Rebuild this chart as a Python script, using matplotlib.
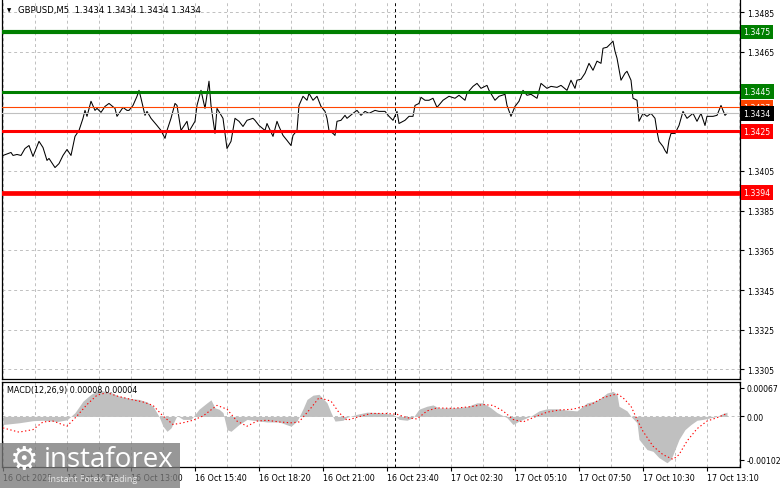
import matplotlib
matplotlib.use("Agg")
import matplotlib.pyplot as plt
from matplotlib.patches import Rectangle

# ---------------- data ----------------
price_bars = [0, 4, 5, 7, 9, 11, 13, 15, 16, 18, 20, 22, 23, 26, 28, 30, 32, 34, 36, 38, 40, 41, 42, 44, 46, 47, 49,
              51, 53, 56, 57, 60, 62, 63, 65, 67, 68, 69, 71, 72, 74, 77, 79, 81, 82, 84, 86, 87, 89, 92, 93, 96, 97,
              99, 101, 103, 104, 106, 107, 110, 112, 114, 116, 118, 120, 122, 125, 126, 128, 131, 132, 135, 137, 138,
              140, 142, 144, 145, 147, 148, 150, 152, 153, 155, 157, 159, 161, 162, 163, 165, 166, 167, 169, 171, 172,
              175, 177, 179, 181, 183, 186, 188, 191, 193, 195, 197, 198, 201, 203, 205, 206, 208, 209, 211, 213, 215,
              217, 220, 223, 226, 228, 231, 232, 235, 237, 239, 242, 243, 246, 248, 251, 252, 254, 256, 258, 260, 262,
              264, 267, 269, 272, 274, 277, 279, 282, 284, 286, 287, 289, 291, 293, 295, 297, 299, 300, 302, 304, 305,
              306, 307, 309, 311, 312, 314, 315, 317, 318, 320, 322, 324, 326, 327, 328, 330, 331, 332, 333, 334, 336,
              338, 340, 342, 345, 347, 349, 351, 352, 355, 357, 359, 361, 362]
price_close = [1.34128, 1.34143, 1.34128, 1.34133, 1.34128, 1.34163, 1.34178, 1.34123, 1.34148, 1.34199, 1.34168,
               1.34103, 1.34113, 1.34067, 1.34087, 1.34128, 1.34158, 1.34128, 1.34224, 1.34254, 1.34315, 1.34355,
               1.34325, 1.34401, 1.34355, 1.34365, 1.34345, 1.34375, 1.34390, 1.34365, 1.34325, 1.34370, 1.34355,
               1.34355, 1.34380, 1.34426, 1.34456, 1.34416, 1.34330, 1.34350, 1.34315, 1.34279, 1.34254, 1.34214,
               1.34254, 1.34315, 1.34390, 1.34380, 1.34254, 1.34300, 1.34249, 1.34300, 1.34380, 1.34456, 1.34365,
               1.34502, 1.34380, 1.34239, 1.34365, 1.34315, 1.34163, 1.34199, 1.34315, 1.34300, 1.34274, 1.34305,
               1.34315, 1.34305, 1.34279, 1.34254, 1.34289, 1.34224, 1.34300, 1.34274, 1.34229, 1.34204, 1.34178,
               1.34229, 1.34254, 1.34380, 1.34426, 1.34406, 1.34441, 1.34406, 1.34426, 1.34375, 1.34350, 1.34315,
               1.34254, 1.34239, 1.34229, 1.34300, 1.34305, 1.34330, 1.34315, 1.34340, 1.34355, 1.34330, 1.34350,
               1.34340, 1.34355, 1.34350, 1.34350, 1.34325, 1.34305, 1.34350, 1.34289, 1.34305, 1.34325, 1.34325,
               1.34380, 1.34390, 1.34421, 1.34406, 1.34406, 1.34416, 1.34370, 1.34406, 1.34426, 1.34416, 1.34431,
               1.34406, 1.34441, 1.34476, 1.34491, 1.34466, 1.34481, 1.34456, 1.34406, 1.34426, 1.34436, 1.34380,
               1.34325, 1.34375, 1.34401, 1.34456, 1.34431, 1.34436, 1.34416, 1.34491, 1.34466, 1.34476, 1.34471,
               1.34481, 1.34456, 1.34507, 1.34466, 1.34507, 1.34512, 1.34542, 1.34592, 1.34557, 1.34603, 1.34592,
               1.34668, 1.34673, 1.34693, 1.34704, 1.34653, 1.34618, 1.34507, 1.34542, 1.34552, 1.34507, 1.34416,
               1.34406, 1.34300, 1.34340, 1.34325, 1.34340, 1.34315, 1.34249, 1.34199, 1.34173, 1.34153, 1.34138,
               1.34204, 1.34239, 1.34239, 1.34279, 1.34350, 1.34315, 1.34340, 1.34300, 1.34340, 1.34279, 1.34325,
               1.34325, 1.34330, 1.34380, 1.34330, 1.34340]

hist_bars = [0, 8, 15, 20, 27, 32, 36, 40, 44, 48, 54, 58, 64, 68, 72, 75, 78, 80, 82, 84, 87, 90, 94, 98, 102, 104,
             106, 108, 110, 112, 114, 116, 118, 122, 125, 132, 138, 144, 147, 150, 152, 155, 158, 162, 164, 166, 170,
             172, 177, 182, 188, 195, 198, 202, 205, 208, 212, 215, 218, 225, 232, 237, 240, 244, 247, 252, 255, 258,
             264, 268, 272, 277, 282, 287, 288, 292, 295, 298, 302, 305, 307, 308, 312, 314, 317, 318, 322, 325, 328,
             332, 334, 336, 338, 341, 344, 347, 350, 354, 357, 360, 362]
hist_vals = [-0.00019, -0.00015, -0.00010, -0.00009, -0.00012, -0.00008, 0.00009, 0.00036, 0.00052, 0.00062, 0.00056,
             0.00048, 0.00042, 0.00040, 0.00034, 0.00024, 0.0, -0.00023, -0.00035, -0.00027, 0.00002, -0.00007,
             -0.00007, 0.00017, 0.00032, 0.00039, 0.00020, 0.00017, 0.00009, -0.00031, -0.00035, -0.00027, -0.00019,
             -0.00007, -0.00009, -0.00013, -0.00013, -0.00023, -0.00011, 0.00018, 0.00040, 0.00050, 0.00052, 0.00032,
             0.00009, -0.00011, -0.00009, -0.00002, 0.00005, 0.00010, 0.00009, 0.00005, -0.00007, -0.00009, -0.00003,
             0.00017, 0.00024, 0.00027, 0.00020, 0.00020, 0.00023, 0.00032, 0.00032, 0.00020, 0.00009, -0.00003,
             -0.00019, -0.00011, 0.00001, 0.00013, 0.00018, 0.00018, 0.00015, 0.00013, 0.00017, 0.00032, 0.00035,
             0.00040, 0.00055, 0.00059, 0.00052, 0.00024, 0.00013, 0.0, -0.00015, -0.00054, -0.00078, -0.00082,
             -0.00097, -0.00109, -0.00101, -0.00078, -0.00054, -0.00031, -0.00019, -0.00009, -0.00007, -0.00003, 0.0,
             0.00007, 0.00010]

signal_bars = [0, 8, 15, 20, 25, 32, 37, 42, 47, 52, 57, 64, 70, 75, 80, 85, 90, 95, 100, 107, 112, 117, 122, 127,
               132, 138, 144, 148, 154, 158, 164, 168, 172, 177, 184, 192, 197, 202, 207, 212, 217, 225, 234, 240,
               245, 250, 255, 260, 267, 272, 278, 285, 294, 300, 307, 310, 314, 317, 320, 325, 330, 335, 338, 342,
               347, 352, 357, 362]
signal_vals = [-0.00027, -0.00037, -0.00031, -0.00013, -0.00011, -0.00023, 0.00001, 0.00028, 0.00050, 0.00056,
               0.00048, 0.00040, 0.00034, 0.00026, 0.00001, -0.00019, -0.00015, -0.00009, 0.00001, 0.00026, 0.00017,
               -0.00011, -0.00023, -0.00011, -0.00009, -0.00013, -0.00015, -0.00013, 0.00020, 0.00044, 0.00036,
               0.00009, -0.00009, -0.00002, 0.00007, 0.00007, 0.00005, -0.00003, -0.00006, 0.00013, 0.00020, 0.00019,
               0.00023, 0.00028, 0.00026, 0.00013, -0.00007, -0.00013, 0.00001, 0.00010, 0.00015, 0.00017, 0.00028,
               0.00044, 0.00053, 0.00044, 0.00024, -0.00007, -0.00035, -0.00070, -0.00090, -0.00101, -0.00090,
               -0.00058, -0.00029, -0.00011, -0.00003, 0.00007]

time_tick_bars = [0, 32, 64, 96, 128, 160, 192, 224, 256, 288, 320, 352]
time_tick_labels = ["16 Oct 2025", "16 Oct 10:20", "16 Oct 13:00", "16 Oct 15:40", "16 Oct 18:20", "16 Oct 21:00",
                    "16 Oct 23:40", "17 Oct 02:30", "17 Oct 05:10", "17 Oct 07:50", "17 Oct 10:30", "17 Oct 13:10"]
price_ticks = [1.3485, 1.3465, 1.3445, 1.3425, 1.3405, 1.3385, 1.3365, 1.3345, 1.3325, 1.3305]
macd_ticks = [0.00067, 0.0, -0.00102]
macd_tick_labels = ["0.00067", "0.00", "-0.00102"]

level_values = [1.3475, 1.3445, 1.3425, 1.3394]
level_colors = ["#007f00", "#007f00", "#ff0000", "#ff0000"]
level_widths = [3.0, 2.2, 2.2, 3.4]
tp_level = 1.3437
bid_level = 1.3434
separator_bar = 196
title_text = "GBPUSD,M5  1.3434 1.3434 1.3434 1.3434"
macd_text = "MACD(12,26,9) 0.00008 0.00004"

# ---------------- layout ----------------
W, H = 781, 489
fig = plt.figure(figsize=(W / 100, H / 100), dpi=100)
fig.patch.set_facecolor("white")


def fx(px):
    return px / W


def fy(py):
    return 1 - py / H


ax = fig.add_axes([fx(2), fy(380), fx(740) - fx(2), fy(1) - fy(380)])
mx = fig.add_axes([fx(2), fy(468), fx(740) - fx(2), fy(383) - fy(468)])

FS = 5.6
GRID = "#c0c0c0"
grid_bars = list(range(0, 369, 16))

for a in (ax, mx):
    a.set_xlim(-0.5, 368.5)
    for b in grid_bars:
        a.axvline(b, color=GRID, lw=0.7, ls=(0, (3, 3)), zorder=0)
    a.axvline(separator_bar, color="black", lw=0.7, ls=(0, (3, 3)), zorder=1)
    for s in a.spines.values():
        s.set_color("black")
        s.set_linewidth(0.9)
    a.yaxis.tick_right()
    a.tick_params(axis="y", which="both", length=3, width=0.8, pad=2, labelsize=FS, colors="black")

ax.spines["top"].set_visible(False)

# ---- main price panel ----
ax.set_ylim(1.33002, 1.34911)
for p in price_ticks:
    ax.axhline(p, color=GRID, lw=0.7, ls=(0, (3, 3)), zorder=0)
ax.set_yticks(price_ticks)
ax.set_yticklabels(["" if p in (1.3445, 1.3425) else f"{p:.4f}" for p in price_ticks])
ax.set_xticks([])

ax.plot(price_bars, price_close, color="black", lw=0.75, zorder=2)
ax.axhline(bid_level, color="#c0c0c0", lw=0.8, zorder=3)
ax.axhline(tp_level, color="#ff4500", lw=0.8, zorder=3)
for v, c, w in zip(level_values, level_colors, level_widths):
    ax.axhline(v, color=c, lw=w, zorder=4)

ytr = ax.get_yaxis_transform()
dx = 1 + 3.5 / 738


def tag(val, fc):
    ax.text(dx, val, f"{val:.4f}", transform=ytr, ha="left", va="center", fontsize=FS, color="white",
            clip_on=False, zorder=6,
            bbox=dict(boxstyle="square,pad=0.36", fc=fc, ec="none"))


tag(level_values[0], level_colors[0])
tag(level_values[1], level_colors[1])
tag(tp_level, "#ff4500")
tag(bid_level, "black")
tag(level_values[2], level_colors[2])
tag(level_values[3], level_colors[3])

# ---- MACD panel ----
mx.set_ylim(-0.00119, 0.00081)
mx.axhline(0, color=GRID, lw=0.7, ls=(0, (3, 3)), zorder=0)
mx.fill_between(hist_bars, 0, hist_vals, color="#c0c0c0", lw=0, zorder=1.5)
mx.plot(signal_bars, signal_vals, color="red", lw=0.8, ls=(0, (1.2, 2.2)), zorder=3)
mx.set_yticks(macd_ticks)
mx.set_yticklabels(macd_tick_labels)
mx.set_xticks(time_tick_bars)
mx.set_xticklabels(time_tick_labels, ha="left")
mx.tick_params(axis="x", length=3, width=0.8, pad=1.5, labelsize=5.8, colors="black")

# ---- texts ----
fig.text(fx(7), fy(10.5), "\u25bc", fontsize=4, va="center", ha="left", color="black")
fig.text(fx(18), fy(10), title_text, fontsize=6.1, va="center", ha="left", color="black")
fig.text(fx(7), fy(391), macd_text, fontsize=5.8, va="center", ha="left", color="black")

# ---- watermark logo ----
fig.patches.append(Rectangle((0, fy(489)), fx(180), fy(444) - fy(489), transform=fig.transFigure,
                             fc="#7a7a7a", ec="none", alpha=0.78, zorder=10))
fig.text(fx(24), fy(461), "\u2699", fontsize=23, color="white", ha="center", va="center", zorder=11,
         family="DejaVu Sans")
fig.text(fx(44), fy(460), "instaforex", fontsize=20, color="white", ha="left", va="center", zorder=11,
         family="Open Sans")
fig.text(fx(48), fy(480), "Instant Forex Trading", fontsize=6.5, color="#e8e8e8", ha="left", va="center",
         zorder=11, family="Open Sans")

fig.savefig("out.png", dpi=100, facecolor="white")
